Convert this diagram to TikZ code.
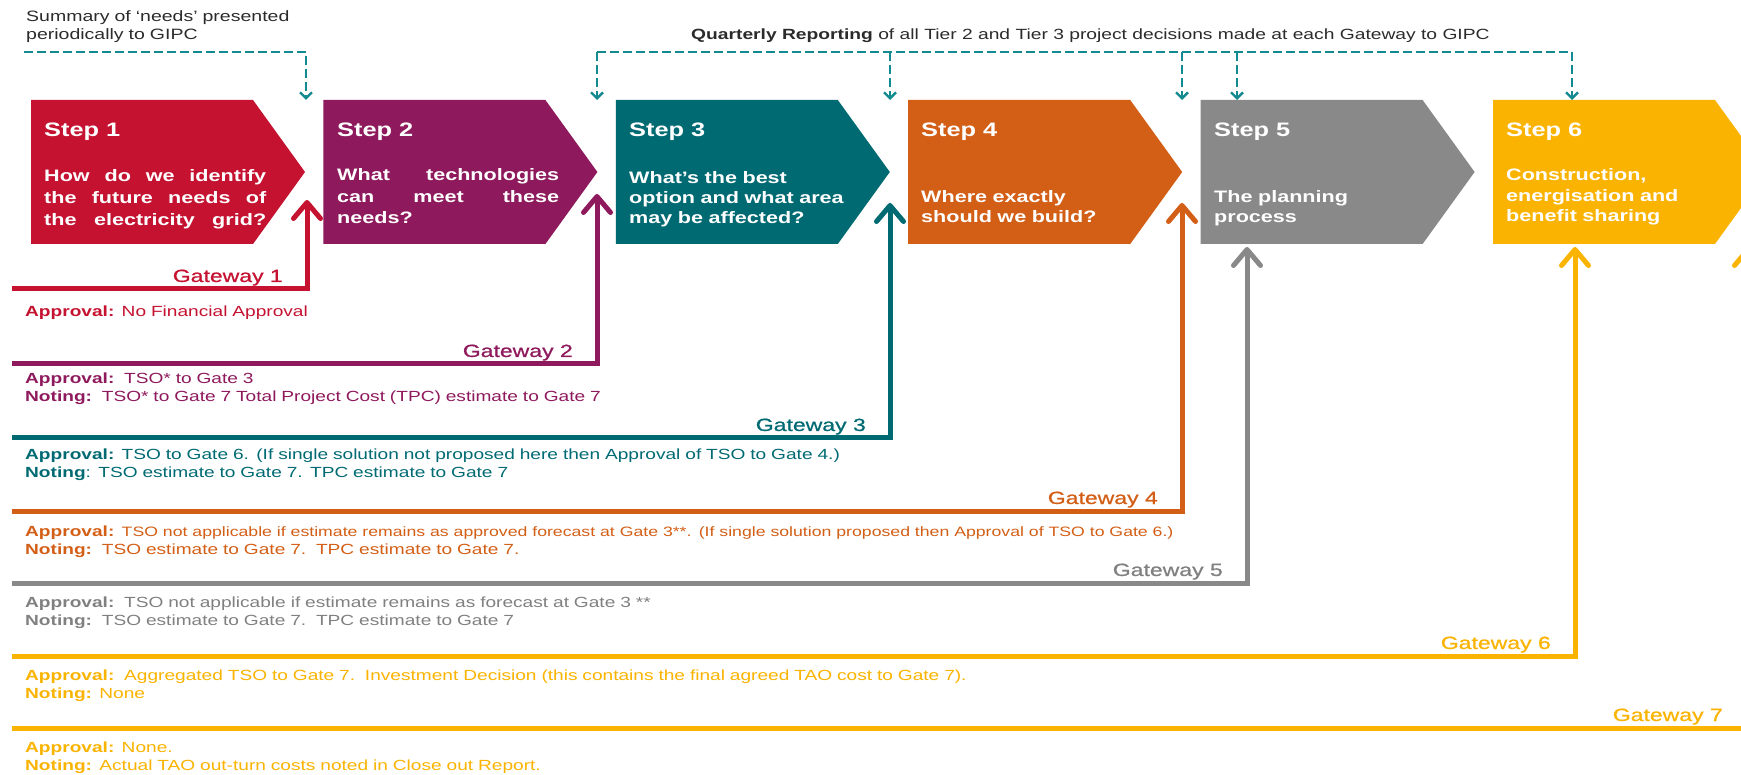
\documentclass[tikz,border=0pt]{standalone}
\usepackage{fontspec}
\setmainfont{Liberation Sans}[FakeStretch=1.3]
\newfontfamily\gwfont{Liberation Sans}[FakeStretch=1.3, FakeBold=0.8]
\usetikzlibrary{arrows.meta}

\definecolor{cRed}{HTML}{C41230}
\definecolor{cPurple}{HTML}{8E195C}
\definecolor{cTeal}{HTML}{006A73}
\definecolor{cOrange}{HTML}{D35E16}
\definecolor{cGrey}{HTML}{898989}
\definecolor{cGreyTxt}{HTML}{808080}
\definecolor{cYellow}{HTML}{FAB300}
\definecolor{cDash}{HTML}{138A8F}
\definecolor{cInk}{HTML}{2B2B2B}

\newcommand{\fsz}[2]{\fontsize{#1}{#2}\selectfont}
% chevron-shaped step box: #1 left x, #2 colour, #3 name of its tip
\newcommand{\chevronbox}[3]{%
  \fill[#2] (#1,100) -- ++(222,0) -- ++(52,72) -- ++(-52,72) -- ++(-222,0) -- cycle;
  \coordinate (#3) at (#1+274,172);}
% a fully justified line of the step text
\newcommand{\jline}[1]{\makebox[222pt][l]{#1}}

\tikzset{
  stephead/.style={anchor=base west, inner sep=0, text=white, font=\fsz{19.5}{23}\bfseries},
  stepbody/.style={anchor=base west, inner sep=0, text=white, text width=240pt, align=left, font=\fsz{16.6}{#1}\bfseries},
  gateline/.style={draw=#1, line width=5pt, line join=miter,
    -{Straight Barb[length=16pt,width=27pt,round]}},
  gatelabel/.style={anchor=base east, inner sep=0, text=#1, font=\gwfont\fsz{17.7}{20}},
  approval/.style={anchor=base west, inner sep=0, text=#1, text width=1300pt, align=left, font=\fsz{14.7}{18}},
  dashline/.style={draw=cDash, line width=2.4pt, dash pattern=on 9pt off 4pt},
  dasharrow/.style={dashline, -{Straight Barb[length=6pt,width=12pt]}},
}

\begin{document}
\begin{tikzpicture}[x=1pt, y=-1pt]
\useasboundingbox (0,0) rectangle (1741,775);
\clip (0,0) rectangle (1741,775);

% ---- step boxes ----
\chevronbox{31}{cRed}{t1}
\chevronbox{323.4}{cPurple}{t2}
\chevronbox{615.8}{cTeal}{t3}
\chevronbox{908.2}{cOrange}{t4}
\chevronbox{1200.6}{cGrey}{t5}
\chevronbox{1493}{cYellow}{t6}

\node[stephead] (h1) at (44,137) {Step 1};
\node[stepbody=22] (b1) at (44,181.5)
  {\jline{How\hfill do\hfill we\hfill identify}\\\jline{the\hfill future\hfill needs\hfill of}\\\jline{the\hfill electricity\hfill grid?}};
\node[stephead] (h2) at (337,137) {Step 2};
\node[stepbody=21.5] (b2) at (337,181)
  {\jline{What\hfill technologies}\\\jline{can\hfill meet\hfill these}\\needs?};
\node[stephead] (h3) at (629,137) {Step 3};
\node[stepbody=19.7] (b3) at (629,184) {What’s the best\\option and what area\\may be affected?};
\node[stephead] (h4) at (921,137) {Step 4};
\node[stepbody=20] (b4) at (921,203) {Where exactly\\should we build?};
\node[stephead] (h5) at (1214,137) {Step 5};
\node[stepbody=20] (b5) at (1214,203) {The planning\\process};
\node[stephead] (h6) at (1506,137) {Step 6};
\node[stepbody=20.5] (b6) at (1506,181) {Construction,\\energisation and\\benefit sharing};

% ---- reporting to GIPC ----
\node[anchor=base west, inner sep=0, text=cInk, text width=400pt, align=left, font=\fsz{15}{18}] (summ) at (26,22)
  {Summary of ‘needs’ presented\\periodically to GIPC};
\node[anchor=base west, inner sep=0, text=cInk, font=\fsz{14.8}{18}] (qrep) at (691,40)
  {\textbf{Quarterly Reporting} of all Tier 2 and Tier 3 project decisions made at each Gateway to GIPC};

\coordinate (n0) at (24,52);
\coordinate (n1) at (306,100);
\draw[dasharrow] (n0) -| (n1);

\coordinate (qa) at (597,52);
\coordinate (qb) at (1572,52);
\draw[dashline] (qa) -- (qb);
\foreach \x [count=\k] in {597,890,1182,1237,1572}{
  \coordinate (qs\k) at (\x,52);
  \coordinate (qe\k) at (\x,100);
  \draw[dasharrow] (qs\k) -- (qe\k);
}

% ---- gateways ----
\coordinate (g1a) at (12,289);  \coordinate (g1b) at (307,200);
\coordinate (g2a) at (12,364);  \coordinate (g2b) at (597,194);
\coordinate (g3a) at (12,438);  \coordinate (g3b) at (890,203);
\coordinate (g4a) at (12,511);  \coordinate (g4b) at (1182,203);
\coordinate (g5a) at (12,583);  \coordinate (g5b) at (1247,247);
\coordinate (g6a) at (12,656);  \coordinate (g6b) at (1575,247);
\coordinate (g7a) at (12,728);  \coordinate (g7b) at (1748,247);

\draw[gateline=cRed]    (g1a) -| (g1b);
\draw[gateline=cPurple] (g2a) -| (g2b);
\draw[gateline=cTeal]   (g3a) -| (g3b);
\draw[gateline=cOrange] (g4a) -| (g4b);
\draw[gateline=cGrey]   (g5a) -| (g5b);
\draw[gateline=cYellow] (g6a) -| (g6b);
\draw[gateline=cYellow] (g7a) -| (g7b);

\node[gatelabel=cRed]     (gl1) at (283,282)  {Gateway 1};
\node[gatelabel=cPurple]  (gl2) at (573,357)  {Gateway 2};
\node[gatelabel=cTeal]    (gl3) at (866,431)  {Gateway 3};
\node[gatelabel=cOrange]  (gl4) at (1158,504) {Gateway 4};
\node[gatelabel=cGreyTxt] (gl5) at (1223,576) {Gateway 5};
\node[gatelabel=cYellow]  (gl6) at (1551,649) {Gateway 6};
\node[gatelabel=cYellow]  (gl7) at (1723,721) {Gateway 7};

% ---- approvals ----
\node[approval=cRed] (ap1) at (25,317) {\textbf{Approval:} No Financial Approval};
\node[approval=cPurple] (ap2) at (25,384)
  {\textbf{Approval:}\ \ TSO* to Gate 3\\\textbf{Noting:}\ \ TSO* to Gate 7 Total Project Cost (TPC) estimate to Gate 7};
\node[approval=cTeal] (ap3) at (25,460)
  {\textbf{Approval:} TSO to Gate 6. (If single solution not proposed here then Approval of TSO to Gate 4.)\\\textbf{Noting}: TSO estimate to Gate 7. TPC estimate to Gate 7};
\node[approval=cOrange] (ap4) at (25,536)
  {\textbf{Approval:} {\fsz{13.6}{18}TSO not applicable if estimate remains as approved forecast at Gate 3**. (If single solution proposed then Approval of TSO to Gate 6.)}\\\textbf{Noting:}\ \ TSO estimate to Gate 7.\ \ TPC estimate to Gate 7.};
\node[approval=cGreyTxt] (ap5) at (25,607)
  {\textbf{Approval:}\ \ TSO not applicable if estimate remains as forecast at Gate 3 **\\\textbf{Noting:}\ \ TSO estimate to Gate 7.\ \ TPC estimate to Gate 7};
\node[approval=cYellow] (ap6) at (25,680)
  {\textbf{Approval:}\ \ Aggregated TSO to Gate 7.\ \ Investment Decision (this contains the final agreed TAO cost to Gate 7).\\\textbf{Noting:} None};
\node[approval=cYellow] (ap7) at (25,752)
  {\textbf{Approval:} None.\\\textbf{Noting:} Actual TAO out-turn costs noted in Close out Report.};
\end{tikzpicture}
\end{document}
